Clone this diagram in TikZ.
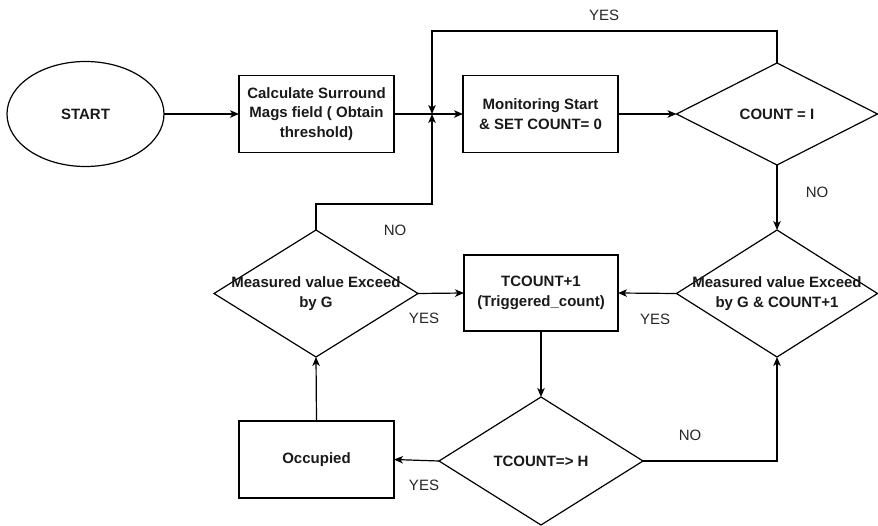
\documentclass[tikz,border=0pt]{standalone}
\usepackage{fontspec}
\setmainfont{Liberation Sans}
\usetikzlibrary{arrows.meta,shapes.geometric}
\begin{document}
\begin{tikzpicture}[x=1pt,y=-1pt,
  every node/.style={outer sep=0pt, inner sep=0pt},
  box/.style={draw, line width=1.2pt, rectangle, minimum width=155, minimum height=77},
  dia/.style={draw, line width=1.2pt, diamond, aspect=1.6},
  oval/.style={draw, line width=1.2pt, ellipse, minimum width=157, minimum height=105},
  txt/.style={font=\fontsize{15}{19.5}\selectfont\bfseries, align=center, text=black!90},
  lbl/.style={font=\fontsize{15}{18}\selectfont, text=black!85},
  arr/.style={line width=1.2pt, -{Stealth[length=9pt,width=7.5pt,inset=2.5pt]}},
  ln/.style={line width=1.2pt}]
\useasboundingbox (0,0) rectangle (878,526);

% process blocks
\node[oval, txt] (start) at (85.5,114) {START};
\node[box, txt] (calc) at (316.5,114) {Calculate Surround\\Mags field ( Obtain\\threshold)};
\node[box, txt] (mon) at (540.5,114) {Monitoring Start\\\& SET COUNT= 0};
\node[dia, minimum width=201, minimum height=102] (cnt) at (777,114) {};
\node[txt] (cntt) at (cnt) {COUNT = I};
\node[dia, minimum width=201, minimum height=127] (mr) at (777,293.5) {};
\node[txt] (mrt) at (mr) {Measured value Exceed\\by G \& COUNT+1};
\node[box, txt, minimum width=154, minimum height=76] (tc) at (541,293) {TCOUNT+1\\(Triggered\_count)};
\node[dia, minimum width=204, minimum height=127] (ml) at (316,293.5) {};
\node[txt] (mlt) at (ml) {Measured value Exceed\\by G};
\node[dia, minimum width=204, minimum height=128] (th) at (541,461) {};
\node[txt] (tht) at (th) {TCOUNT=> H};
\node[box, txt, minimum width=155, minimum height=77] (occ) at (316.5,459.5) {Occupied};

% routing points
\coordinate (J) at (432,114);
\coordinate (top) at (432,31);
\coordinate (bot) at (432,204);

% connectors
\draw[arr] (start.east) -- (calc.west);
\draw[arr] (calc.east) -- (mon.west);
\draw[arr] (mon.east) -- (cnt.west);
\draw[arr] (cnt.north) -- (cnt.north |- top) -| (J);
\draw[arr] (cnt.south) -- (mr.north);
\draw[arr] (mr.west) -- (tc.east);
\draw[arr] (ml.east) -- (tc.west);
\draw[arr] (ml.north) -- (ml.north |- bot) -| (J);
\draw[arr] (tc.south) -- (th.north);
\draw[arr] (th.west) -- (occ.east);
\draw[arr] (occ.north) -- (ml.south);
\draw[arr] (th.east) -| (mr.south);

% branch labels
\node[lbl] (l1) at (604,15) {YES};
\node[lbl] (l2) at (817,192) {NO};
\node[lbl] (l3) at (395,230) {NO};
\node[lbl] (l4) at (424,318) {YES};
\node[lbl] (l5) at (655,319) {YES};
\node[lbl] (l6) at (424,485) {YES};
\node[lbl] (l7) at (690,435) {NO};
\end{tikzpicture}
\end{document}
